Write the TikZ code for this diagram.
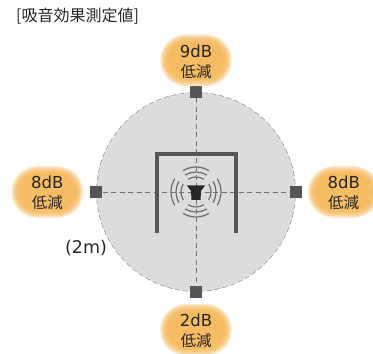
\documentclass[tikz,border=0pt]{standalone}
\usepackage{fontspec}
\setmainfont{Noto Sans CJK JP}
\newfontfamily\latinface{DejaVu Sans}
\usetikzlibrary{positioning}
\definecolor{discgray}{HTML}{DCDCDC}
\definecolor{markgray}{HTML}{555557}
\definecolor{wavegray}{HTML}{6E6E6E}
\definecolor{blobcore}{HTML}{F4B655}
\newcommand{\softblob}[1]{%
  \foreach \g [evaluate=\g as \r using 18+\g] in {0,1.3,...,8}
    \fill[blobcore, opacity=.3, rounded corners=\r pt] ([shift={(-28-\g,-18-\g)}]#1) rectangle ([shift={(28+\g,18+\g)}]#1);
}
\begin{document}
\begin{tikzpicture}[%
    x=1pt, y=1pt,
    on grid,
    sensor/.style={fill=markgray, minimum size=12pt, inner sep=0pt},
    disc/.style={circle, draw=gray, dash pattern=on 5pt off 3pt, fill=discgray, minimum size=199pt, inner sep=0pt},
    axis/.style={draw=gray!90!black, dash pattern=on 5pt off 3.5pt, line width=.6pt},
    result/.style={align=center, font=\fontsize{15.5}{20}\selectfont, text=black!85, inner sep=0pt, yshift=-1.2pt},
    wave/.style={wavegray, line width=1.2pt},
    wall/.style={markgray, line width=3.2pt}
  ]
  \useasboundingbox (0,0) rectangle (373,354);
  \node[disc] at (196,162) (disc) {};
  \coordinate (mid) at (disc.center);
  \node[sensor] at (disc.north) (top) {};
  \node[sensor] at (disc.south) (bottom) {};
  \node[sensor] at (disc.west) (left) {};
  \node[sensor] at (disc.east) (right) {};
  \draw[axis] (top) -- (bottom);
  \draw[axis] (left) -- (right);

  \coordinate[above=32pt of top] (topspot);
  \coordinate[below=38pt of bottom] (bottomspot);
  \coordinate[left=49pt of left] (leftspot);
  \coordinate[right=48pt of right] (rightspot);
  \softblob{topspot}
  \softblob{bottomspot}
  \softblob{leftspot}
  \softblob{rightspot}
  \node[result] at (topspot) (topval) {{\latinface\fontsize{16.5}{20}\selectfont 9dB}\\低減};
  \node[result] at (bottomspot) (bottomval) {{\latinface\fontsize{16.5}{20}\selectfont 2dB}\\低減};
  \node[result] at (leftspot) (leftval) {{\latinface\fontsize{16.5}{20}\selectfont 8dB}\\低減};
  \node[result] at (rightspot) (rightval) {{\latinface\fontsize{16.5}{20}\selectfont 8dB}\\低減};

  % booth and speaker
  \coordinate (wallA) at ([shift={(-39,-41)}]mid);
  \coordinate (wallB) at ([shift={(-39,38)}]mid);
  \coordinate (wallC) at ([shift={(40,38)}]mid);
  \coordinate (wallD) at ([shift={(40,-41)}]mid);
  \draw[wall] (wallA) -- (wallB) -- (wallC) -- (wallD);
  \foreach \r in {15,20,25} {
    \draw[wave] ([shift={(58:\r)}]mid) arc (58:122:\r);
    \draw[wave] ([shift={(148:\r)}]mid) arc (148:212:\r);
    \draw[wave] ([shift={(238:\r)}]mid) arc (238:302:\r);
    \draw[wave] ([shift={(-32:\r)}]mid) arc (-32:32:\r);
  }
  \fill[black!85] ([shift={(-9,6.5)}]mid) -- ([shift={(9,6.5)}]mid) -- ([shift={(5,1)}]mid)
    -- ([shift={(4.5,-8)}]mid) -- ([shift={(-4.5,-8)}]mid) -- ([shift={(-5,1)}]mid) -- cycle;

  \node[anchor=west, inner sep=0pt, font=\fontsize{16}{18}\selectfont, text=black!85] at (16,338) (title) {[吸音効果測定値]};
  \node[inner sep=0pt, font=\latinface\fontsize{17.5}{20}\selectfont, text=black!85] at (86,106) (range) {(2m)};
\end{tikzpicture}
\end{document}
